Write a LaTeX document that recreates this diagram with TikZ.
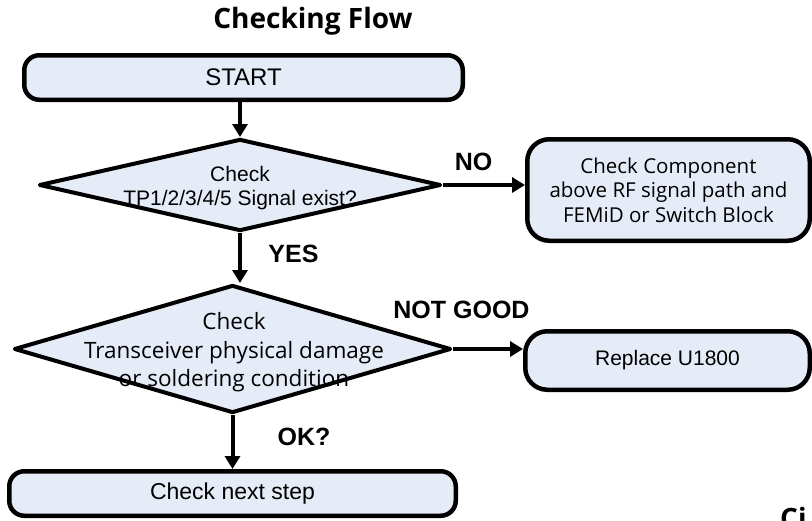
\documentclass[tikz,border=0pt]{standalone}
\usepackage{fontspec}
\setmainfont{Liberation Sans}
\newfontfamily\gothic{Open Sans}
\usetikzlibrary{shapes.geometric,arrows.meta}
\definecolor{boxfill}{RGB}{230,236,247}
\begin{document}
\begin{tikzpicture}[x=1pt,y=-1pt,
  stepbox/.style={draw, line width=4.5pt, fill=boxfill, inner sep=0pt},
  decision/.style={draw, diamond, line width=4pt, line join=round, fill=boxfill, inner sep=0pt},
  flow/.style={line width=4pt, -{Triangle[length=13pt,width=15pt]}},
  lbl/.style={font=\bfseries\fontsize{25}{30}\selectfont, inner sep=0pt},
  plain/.style={inner sep=0pt, align=center}]
\useasboundingbox (0,0) rectangle (812,520);

% heading
\node[plain, font=\gothic\bfseries\fontsize{28}{32}\selectfont] (title) at (313,21) {Checking Flow};

% start
\node[stepbox, rounded corners=15pt, minimum width=438.5pt, minimum height=44.5pt,
      font=\fontsize{24}{28}\selectfont] (start) at (243.5,77.5) {START};

% first decision
\node[decision, minimum width=402pt, minimum height=92pt] (d1) at (240,185) {};
\node[plain, font=\fontsize{21}{24}\selectfont] (d1text) at (240,188)
  {Check\\TP1/2/3/4/5 Signal exist?};

% NO branch
\node[stepbox, rounded corners=22pt, minimum width=282.5pt, minimum height=101.5pt,
      align=center, font=\gothic\fontsize{20.5}{24.5}\selectfont] (nobox) at (668.5,190)
  {Check Component\\above RF signal path and\\FEMiD or Switch Block};
\draw[flow] (d1.east) -- (d1.east -| nobox.west);
\node[lbl] (nolbl) at (473.5,162) {NO};

% second decision
\node[decision, minimum width=437pt, minimum height=128pt] (d2) at (232.5,349) {};
\node[plain, font=\gothic\fontsize{22.5}{28.5}\selectfont] (d2text) at (234,352.5)
  {Check\\Transceiver physical damage\\or soldering condition};
\draw[flow] (start.south -| d1.north) -- (d1.north);
\draw[flow] (d1.south) -- (d1.south |- d2.north);
\node[lbl] (yeslbl) at (293.5,254) {YES};

% NOT GOOD branch
\node[stepbox, rounded corners=22pt, minimum width=284.5pt, minimum height=58.5pt,
      font=\fontsize{21}{25}\selectfont] (rep) at (667.5,360.5) {Replace U1800};
\draw[flow] (d2.east) -- (d2.east -| rep.west);
\node[lbl] (nglbl) at (461.5,310) {NOT GOOD};

% OK branch
\node[stepbox, rounded corners=15pt, minimum width=446.5pt, minimum height=44.5pt,
      font=\fontsize{23}{27}\selectfont] (nextstep) at (232.5,493.5) {Check next step};
\draw[flow] (d2.south) -- (d2.south |- nextstep.north);
\node[lbl] (oklbl) at (304,437) {OK?};

% caption running off the page edge
\node[plain, anchor=north west, font=\gothic\bfseries\fontsize{28}{32}\selectfont] (cut) at (780,507) {Ci};
\end{tikzpicture}
\end{document}
